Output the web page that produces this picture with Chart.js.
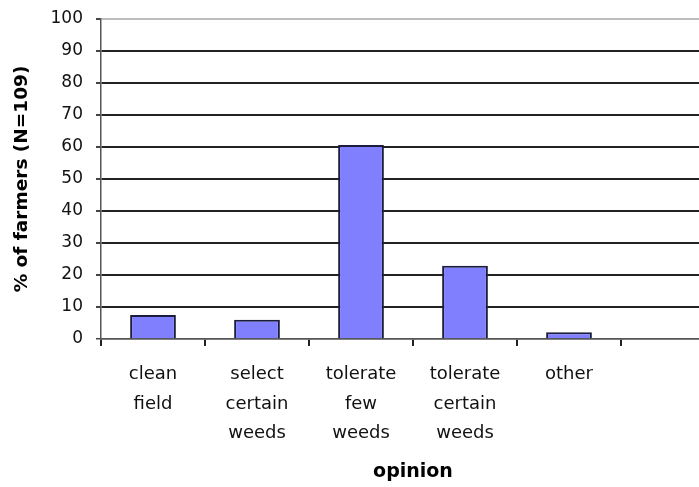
<!DOCTYPE html>
<html>
<head>
<meta charset="utf-8">
<script src="https://cdn.jsdelivr.net/npm/chart.js@4"></script>
<style>
  html, body { margin: 0; padding: 0; background: #fff; overflow: hidden; }
  #wrap { width: 725px; height: 487px; }
</style>
</head>
<body>
<div id="wrap"><canvas id="c" width="725" height="487"></canvas></div>
<script>
// Data
const categories = [
  ['clean', 'field'],
  ['select', 'certain', 'weeds'],
  ['tolerate', 'few', 'weeds'],
  ['tolerate', 'certain', 'weeds'],
  ['other'],
  ''
];
const percentFarmers = [7.5, 6, 60.6, 22.9, 2.1, null];
const yTickStep = 10;
const yMin = 0;
const yMax = 100;
const xTitle = 'opinion';
const yTitle = '% of farmers (N=109)';

new Chart(document.getElementById('c'), {
  type: 'bar',
  data: {
    labels: categories,
    datasets: [{
      data: percentFarmers,
      backgroundColor: '#8080ff',
      borderColor: '#1c1c3c',
      borderWidth: 2,
      categoryPercentage: 0.44,
      barPercentage: 1
    }]
  },
  options: {
    responsive: false,
    animation: false,
    devicePixelRatio: 1,
    layout: { padding: { top: 19, left: 0, right: 0, bottom: 0 } },
    plugins: { legend: { display: false }, tooltip: { enabled: false } },
    scales: {
      x: {
        offset: true,
        afterFit: s => { s.height = 148; },
        grid: {
          display: true,
          drawOnChartArea: false,
          drawTicks: true,
          tickLength: 7,
          tickColor: '#222',
          offset: true,
          lineWidth: 2
        },
        border: { display: true, color: '#555', width: 1.5 },
        ticks: {
          autoSkip: false,
          maxRotation: 0,
          minRotation: 0,
          padding: 14,
          color: '#111',
          font: { family: 'DejaVu Sans', size: 18, lineHeight: 1.64 }
        },
        title: {
          display: true,
          text: xTitle,
          color: '#000',
          padding: 4,
          font: { family: 'DejaVu Sans', size: 19, weight: 'bold' }
        }
      },
      y: {
        min: yMin,
        max: yMax,
        afterFit: s => { s.width = 101; s.paddingTop = 0; s.paddingBottom = 0; },
        grid: {
          drawTicks: true,
          tickLength: 5,
          tickColor: '#444',
          color: ctx => ctx.tick && ctx.tick.value === yMax ? '#bdbdbd' : (ctx.tick && ctx.tick.value === yMin ? '#555' : '#222'),
          lineWidth: ctx => ctx.tick && ctx.tick.value === yMin ? 1.5 : 2
        },
        border: { display: true, color: '#555', width: 1.5 },
        ticks: {
          stepSize: yTickStep,
          padding: 13,
          color: '#111',
          font: { family: 'DejaVu Sans', size: 17 }
        },
        title: {
          display: true,
          text: yTitle,
          color: '#000',
          padding: 11,
          font: { family: 'DejaVu Sans', size: 18.5, weight: 'bold' }
        }
      }
    }
  }
});
</script>
</body>
</html>
